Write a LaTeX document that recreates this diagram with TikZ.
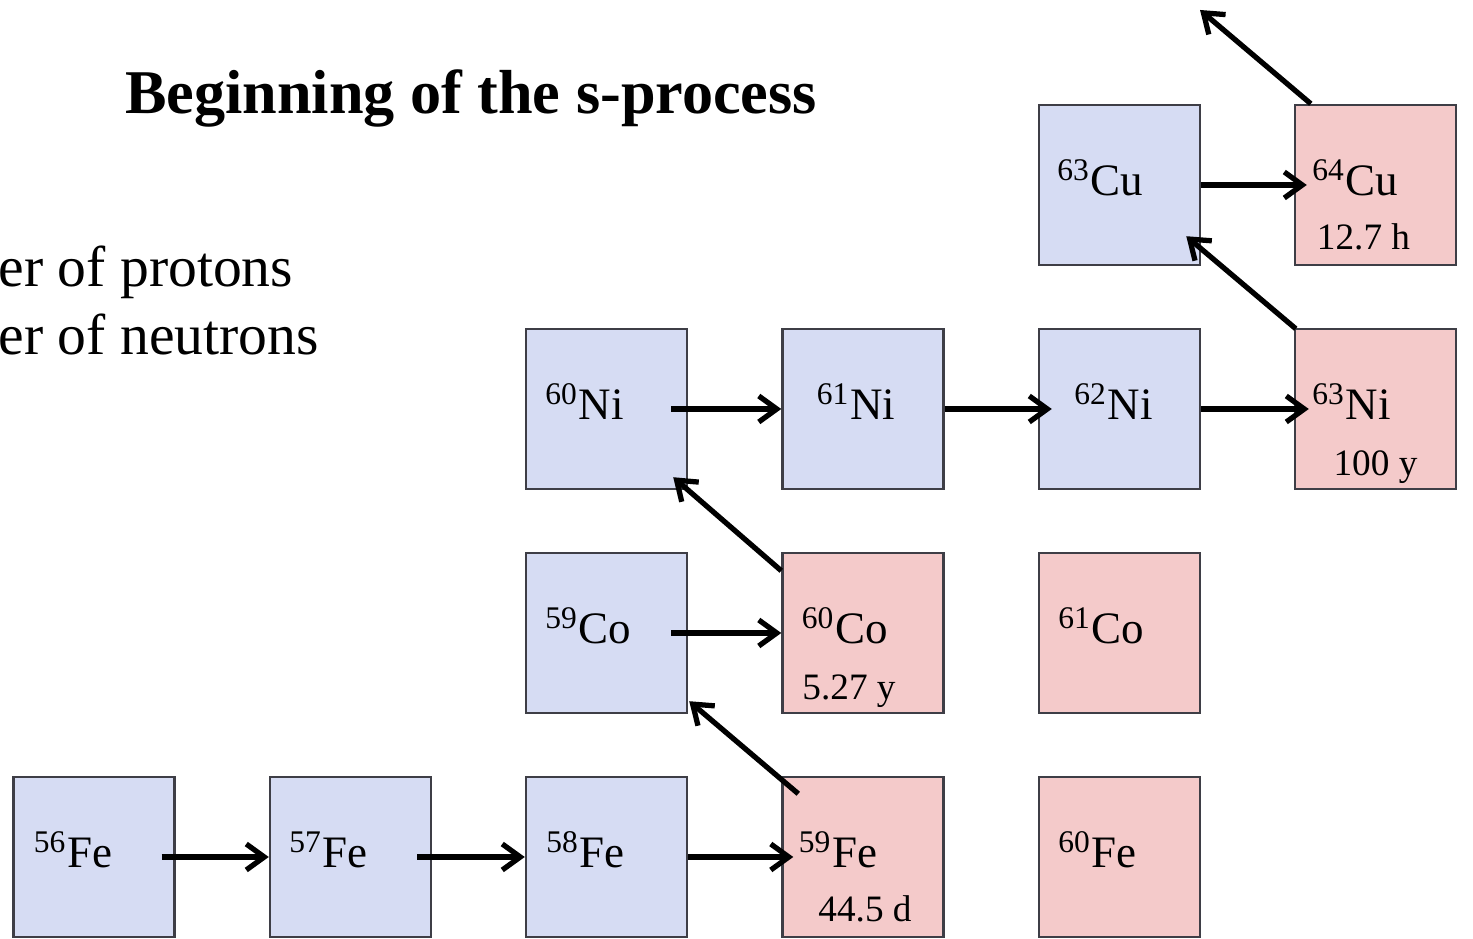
\documentclass[tikz,border=0pt]{standalone}
\usepackage{fontspec}
\setmainfont{Liberation Serif}
\usepackage{xcolor}
\usetikzlibrary{arrows.meta, calc}
\definecolor{stablefill}{HTML}{D6DCF3}
\definecolor{decayfill}{HTML}{F4CACA}
\definecolor{boxline}{HTML}{3E3E46}

\tikzset{
  nucbox/.style={draw=boxline, line width=0.7pt, minimum width=1.61cm,
                 minimum height=1.60cm, inner sep=0pt},
  nuclabel/.style={anchor=base west, inner sep=0pt, font=\fontsize{12.8}{15}\selectfont},
  halflife/.style={anchor=base, inner sep=0pt, font=\fontsize{10.6}{13}\selectfont},
  capture/.style={line width=1.5pt, -{Straight Barb[length=1.8mm, width=2.6mm]}},
}

\begin{document}
\begin{tikzpicture}
\useasboundingbox (0,0) rectangle (14.73,9.39);
\node[anchor=base, inner sep=0pt, font=\fontsize{17.7}{22}\selectfont\bfseries]
  (title) at (4.71,8.25) {Beginning of the s-process};
\node[anchor=base west, inner sep=0pt, font=\fontsize{16.4}{19}\selectfont]
  (zline) at (-0.02,6.52) {er of protons};
\node[anchor=base west, inner sep=0pt, font=\fontsize{16.4}{19}\selectfont]
  (nline) at (-0.02,5.84) {er of neutrons};

\foreach \name/\x/\y/\col/\mass/\elem/\dx in {
  fe56/0.94/0.82/stablefill/56/Fe/0.21,
  fe57/3.505/0.82/stablefill/57/Fe/0.20,
  fe58/6.065/0.82/stablefill/58/Fe/0.21,
  fe59/8.63/0.82/decayfill/59/Fe/0.17,
  fe60/11.195/0.82/decayfill/60/Fe/0.20,
  co59/6.065/3.06/stablefill/59/Co/0.20,
  co60/8.63/3.06/decayfill/60/Co/0.20,
  co61/11.195/3.06/decayfill/61/Co/0.20,
  ni60/6.065/5.30/stablefill/60/Ni/0.20,
  ni61/8.63/5.30/stablefill/61/Ni/0.35,
  ni62/11.195/5.30/stablefill/62/Ni/0.36,
  ni63/13.755/5.30/decayfill/63/Ni/0.18,
  cu63/11.195/7.54/stablefill/63/Cu/0.19,
  cu64/13.755/7.54/decayfill/64/Cu/0.18}{
  \node[nucbox, fill=\col] (\name) at (\x,\y) {};
  \node[nuclabel] (\name-t) at ($(\name.west)+(\dx,-0.11)$) {\textsuperscript{\mass}\elem};
}

\node[halflife] (fe59-h) at ($(fe59.south)+(0.02,0.17)$) {44.5 d};
\node[halflife] (co60-h) at ($(co60.south)+(-0.14,0.15)$) {5.27 y};
\node[halflife] (ni63-h) at ($(ni63.south)+(0,0.15)$) {100 y};
\node[halflife] (cu64-h) at ($(cu64.south)+(-0.12,0.17)$) {12.7 h};

\foreach \a/\b/\s/\e in {fe56/fe57/0.14/0, fe57/fe58/0.15/0, fe58/fe59/0/0.12,
  co59/co60/0.17/0, ni60/ni61/0.17/0, ni61/ni62/0/0.14, ni62/ni63/0/0.15,
  cu63/cu64/0/0.13}{
  \draw[capture, shorten <=-\s cm, shorten >=-\e cm] (\a.east) -- (\b.west);
}

\coordinate (cu64out) at (12.00,9.29);
\draw[capture] ($(fe59.north west)+(0.17,-0.18)$) -- ($(co59.south east)+(0.01,0.13)$);
\draw[capture] ($(co60.north west)+(0,-0.19)$) -- ($(ni60.south east)+(-0.15,0.13)$);
\draw[capture] ($(ni63.north west)+(0.02,-0.01)$) -- ($(cu63.south east)+(-0.15,0.30)$);
\draw[capture] ($(cu64.north west)+(0.17,0)$) -- (cu64out);
\end{tikzpicture}
\end{document}
